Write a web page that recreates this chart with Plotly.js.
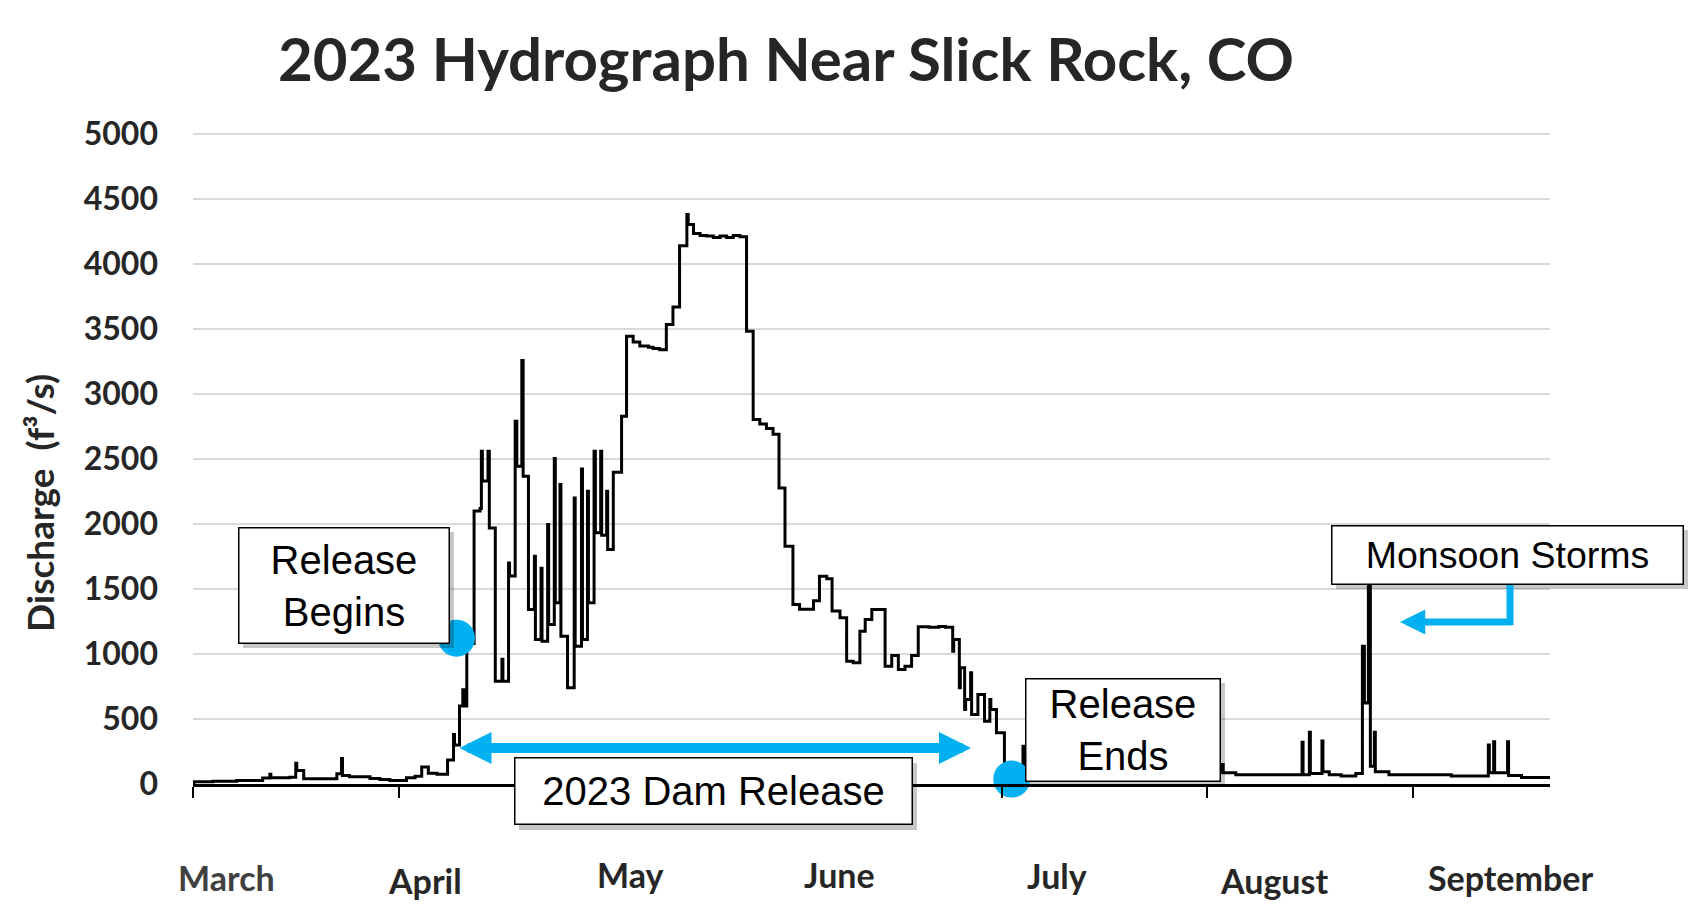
<!DOCTYPE html>
<html>
<head>
<meta charset="utf-8">
<script src="https://cdn.plot.ly/plotly-3.0.1.min.js"></script>
<style>
  body { margin: 0; background: #fff; }
  #myDiv { width: 1697px; height: 923px; }
</style>
</head>
<body>
<div id="myDiv"></div>
<script>
// Discharge readings, days counted from 1 March 2023 (fractions = part of a day)
var flowDay = [
  0, 0.15, 3, 6.6, 10.5, 11.6, 11.75, 14.6, 15.5, 15.65, 16.7, 21.7, 22.4, 22.55,
  23.6, 26.7, 28.2, 29.7, 32.2, 33.5, 34.5, 35.5, 36.8, 38.4, 39.3, 39.45, 40.2,
  40.7, 40.85, 41.3,
  42.4, 43.3, 43.5, 43.65, 44.5, 44.7, 45.6, 46.6, 46.75, 47.6, 47.75, 48.6, 48.85,
  49.6, 49.8, 50.6, 51.5, 51.65, 52.5, 52.65, 53.5, 53.65, 54.5, 54.65, 55.35, 55.5,
  56.5, 57.5, 57.65, 58.6, 58.75, 59.5, 59.65, 60.5, 60.7, 61.5, 61.65, 62.4, 62.55,
  63.4, 64.65,
  65.4, 66.4, 67.4, 68.7, 69.4, 70.4, 71.4, 72.4, 73.4, 74.5, 74.7, 75.5, 76.5, 77.5,
  78.5, 79.5, 80.5, 81.5, 82.5, 83.5, 84.5, 85.5, 86.5, 87.5, 88.4,
  89.3, 90.5, 91.5, 93.6, 94.5, 95.6, 96.4, 97.6, 98.6, 99.6, 100.6, 101.4, 102.4,
  104.4, 105.4, 106.4, 107.4, 108.4, 109.4, 111, 112.5, 113.5, 114.6, 114.75, 115.6,
  115.75, 116.4, 116.55, 117.3, 117.45, 118.4, 119.4, 120.2, 120.35, 121.2, 122.4,
  124.5, 125.2, 125.35, 130, 140, 150, 155.1, 155.4, 157.3, 167.3, 167.45, 168.4,
  168.55, 170.3, 170.45, 171.4, 173.2, 175.4, 176.4, 176.7, 177.3, 177.6, 178.2,
  178.35, 180.4, 189.8, 195.4, 195.55, 196.2, 196.35, 198.3, 198.45, 200.4, 204.7
];
var flowCfs = [
  5, 18, 22, 27, 46, 75, 48, 52, 160, 104, 40, 78, 196, 65,
  55, 42, 35, 27, 48, 60, 130, 82, 75, 185, 380, 300, 600,
  725, 600, 1080,
  2100, 2120, 2560, 2330, 2560, 1970, 790, 960, 790, 1700, 1600, 2790, 2445,
  3258, 2368, 1342, 1752, 1111, 1660, 1098, 1996, 1227, 2504, 1394, 2304, 1137,
  740, 2201, 1060, 2424, 1111, 2252, 1394, 2560, 1932, 2560, 1913, 2252, 1804,
  2399, 2829,
  3445, 3400, 3370, 3360, 3350, 3340, 3535, 3670, 4140, 4381, 4304, 4234, 4220, 4215,
  4205, 4215, 4205, 4220, 4210, 3483, 2804, 2770, 2735, 2690, 2278,
  1829, 1381, 1345, 1410, 1599, 1578, 1330, 1278, 945, 932, 1176, 1266, 1342,
  906, 988, 881, 906, 988, 1209, 1205, 1212, 1205, 1022, 1111, 740,
  894, 573, 650, 855, 535, 688, 483, 650, 573, 394, 35,
  45, 290, 90, 95, 90, 88, 150, 86, 71, 322, 71, 399,
  80, 330, 94, 71, 61, 80, 1060, 624, 1580, 137, 399,
  94, 71, 61, 300, 86, 325, 86, 325, 66, 50, 50
];

// Start and end of the dam release (blue dots)
var releaseDay = [39.75, 123.5];
var releaseCfs = [1122, 38];

var monthNames = ['March', 'April', 'May', 'June', 'July', 'August', 'September'];
var axisEndDay = 204.7;
var axisTopCfs = 5008;   // a hair above 5000 so the top gridline is drawn

function dayToDate(d) {
  return new Date(Date.UTC(2023, 2, 1) + d * 864e5).toISOString().slice(0, 19).replace('T', ' ');
}

// plot area in pixels, used to place the callouts
var L = 193, T = 133, W = 1357, H = 651;
function px(X) { return (X - L) / W; }
function py(Y) { return (T + H - Y) / H; }

var flow = {
  x: flowDay.map(dayToDate),
  y: flowCfs,
  type: 'scatter',
  mode: 'lines',
  line: {color: '#000000', width: 3, shape: 'hv'},
  hoverinfo: 'x+y'
};

var dots = {
  x: releaseDay.map(dayToDate),
  y: releaseCfs,
  type: 'scatter',
  mode: 'markers',
  marker: {color: '#00B0F0', size: 37},
  cliponaxis: false
};

var dark = '#262626';
var labelFont = {family: 'Lato', size: 34, weight: 'bold', color: dark};

// month labels sit a little unevenly in the original
var monthX = [226, 425, 630, 839, 1057, 1274, 1510];
var monthY = [877, 880, 874, 874, 876, 880, 877];

var annotations = monthNames.map(function (m, i) {
  var f = Object.assign({}, labelFont);
  if (i === 0) f.color = '#404040';
  return {xref: 'paper', yref: 'paper', x: px(monthX[i]), y: py(monthY[i]),
    xanchor: 'center', yanchor: 'middle', text: m, showarrow: false, font: f};
});

annotations.push({xref: 'paper', yref: 'paper', x: px(39), y: py(503), textangle: -90,
  xanchor: 'center', yanchor: 'middle', showarrow: false,
  text: 'Discharge\u00a0 (f\u00b3/s)',
  font: {family: 'Lato', size: 37, weight: 'bold', color: dark}});

// callout boxes: [text, left, top, right, bottom, font size] in pixels
var boxes = [
  ['Release<br>Begins', 238, 527, 449, 643, 40],
  ['Release<br>Ends', 1025, 678, 1220, 781, 40],
  ['2023 Dam Release', 514, 758, 912, 825, 40],
  ['Monsoon Storms', 1331, 525, 1683, 584, 37.5]
];
var shapes = [];
boxes.forEach(function (b) {
  shapes.push({type: 'rect', xref: 'paper', yref: 'paper', layer: 'above',
    x0: px(b[1] + 5), x1: px(b[3] + 5), y0: py(b[4] + 5), y1: py(b[2] + 5),
    fillcolor: 'rgba(0,0,0,0.22)', line: {width: 0}});
  annotations.push({xref: 'paper', yref: 'paper',
    x: px((b[1] + b[3]) / 2), y: py((b[2] + b[4]) / 2),
    xanchor: 'center', yanchor: 'middle', showarrow: false, text: b[0],
    width: b[3] - b[1] - 2, height: b[4] - b[2] - 2, borderpad: 0,
    bgcolor: '#ffffff', bordercolor: '#000000', borderwidth: 1.5,
    font: {family: 'Liberation Sans', size: b[5], color: '#000000'}});
});

// double arrow for the release period
annotations.push({xref: 'paper', yref: 'paper', x: px(971), y: py(748),
  ax: -(971 - 458), ay: 0, text: ' ', font: {size: 1},
  showarrow: true, arrowside: 'end+start', arrowhead: 2, startarrowhead: 2,
  arrowsize: 0.64, startarrowsize: 0.64, arrowwidth: 10, arrowcolor: '#00B0F0',
  standoff: 0, startstandoff: 0});

// elbow arrow under "Monsoon Storms"
shapes.push({type: 'line', xref: 'paper', yref: 'paper', layer: 'above',
  x0: px(1510), x1: px(1510), y0: py(584), y1: py(625),
  line: {color: '#00B0F0', width: 7}});
annotations.push({xref: 'paper', yref: 'paper', x: px(1400), y: py(622),
  ax: 113, ay: 0, text: ' ', font: {size: 1},
  showarrow: true, arrowhead: 2, arrowsize: 0.72, arrowwidth: 7, arrowcolor: '#00B0F0',
  standoff: 0, startstandoff: 0});

var layout = {
  width: 1697,
  height: 923,
  margin: {l: L, r: 1697 - L - W, t: T, b: 923 - T - H},
  paper_bgcolor: '#ffffff',
  plot_bgcolor: '#ffffff',
  showlegend: false,
  title: {
    text: '2023 Hydrograph Near Slick Rock, CO',
    x: 786 / 1697, xanchor: 'center', xref: 'container',
    y: 1 - 60 / 923, yanchor: 'middle', yref: 'container',
    font: {family: 'Lato', size: 60, weight: 'bold', color: dark}
  },
  xaxis: {
    type: 'date',
    range: [dayToDate(0), dayToDate(axisEndDay)],
    tick0: '2023-03-01', dtick: 'M1',
    ticks: 'outside', ticklen: 11, tickwidth: 2, tickcolor: '#000000',
    showticklabels: false,
    showgrid: false, zeroline: false,
    showline: true, linecolor: '#000000', linewidth: 2.5
  },
  yaxis: {
    range: [0, axisTopCfs],
    dtick: 500,
    ticks: '',
    ticklabelstandoff: 34,
    tickfont: {family: 'Lato', size: 32, weight: 'bold', color: dark},
    gridcolor: '#d9d9d9', gridwidth: 1.5,
    zeroline: false, showline: false
  },
  annotations: annotations,
  shapes: shapes
};

Plotly.newPlot('myDiv', [flow, dots], layout, {displayModeBar: false});
</script>
</body>
</html>
